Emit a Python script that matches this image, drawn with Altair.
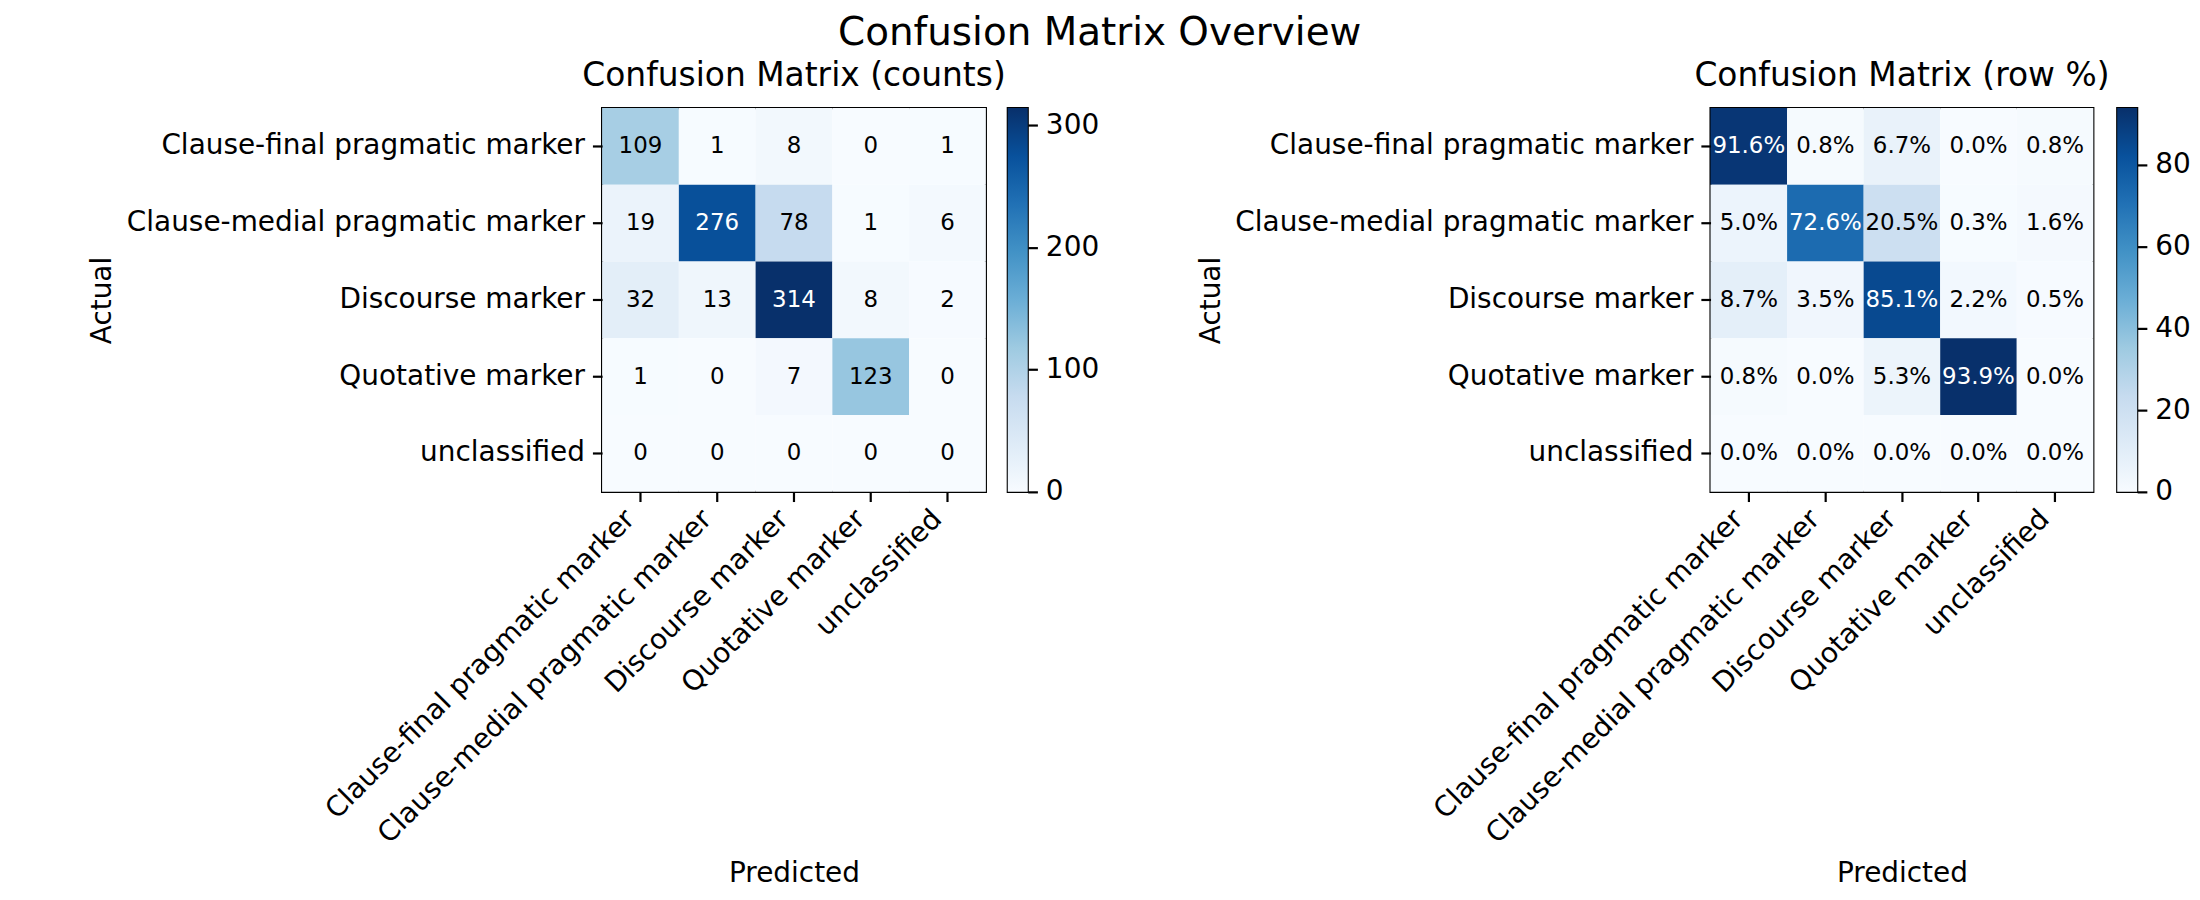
import altair as alt
import pandas as pd

FONT = "DejaVu Sans"

classes = [
    "Clause-final pragmatic marker",
    "Clause-medial pragmatic marker",
    "Discourse marker",
    "Quotative marker",
    "unclassified",
]

counts = [
    [109, 1, 8, 0, 1],
    [19, 276, 78, 1, 6],
    [32, 13, 314, 8, 2],
    [1, 0, 7, 123, 0],
    [0, 0, 0, 0, 0],
]

row_pct = [
    [91.6, 0.8, 6.7, 0.0, 0.8],
    [5.0, 72.6, 20.5, 0.3, 1.6],
    [8.7, 3.5, 85.1, 2.2, 0.5],
    [0.8, 0.0, 5.3, 93.9, 0.0],
    [0.0, 0.0, 0.0, 0.0, 0.0],
]

count_ticks = [0, 100, 200, 300]
pct_ticks = [0, 20, 40, 60, 80]

blues = ["#f7fbff", "#deebf7", "#c6dbef", "#9ecae1", "#6baed6",
         "#4292c6", "#2171b5", "#08519c", "#08306b"]


def panel(matrix, fmt, title, ticks, size, cb_gap):
    rows = []
    for i, a in enumerate(classes):
        for j, p in enumerate(classes):
            v = matrix[i][j]
            rows.append({"Actual": a, "Predicted": p, "value": v, "label": fmt(v)})
    df = pd.DataFrame(rows)
    vmax = max(max(r) for r in matrix)
    vmin = min(min(r) for r in matrix)
    thresh = (vmax + vmin) / 2.0
    stops = [vmin + (vmax - vmin) * k / 8.0 for k in range(9)]

    base = alt.Chart(df).encode(
        x=alt.X("Predicted:N", sort=classes,
                scale=alt.Scale(paddingInner=0, paddingOuter=0),
                axis=alt.Axis(title="Predicted", titleBaseline="alphabetic", titleY=391)),
        y=alt.Y("Actual:N", sort=classes,
                scale=alt.Scale(paddingInner=0, paddingOuter=0),
                axis=alt.Axis(title="Actual", titleBaseline="alphabetic", titleX=-493)),
    )
    rect = base.mark_rect().encode(
        color=alt.Color(
            "value:Q",
            scale=alt.Scale(domain=stops, range=blues, interpolate="rgb"),
            legend=None,
        )
    )
    text = base.mark_text(font=FONT, fontSize=23).encode(
        text="label:N",
        color=alt.condition(f"datum.value > {thresh}", alt.value("white"), alt.value("black")),
    )
    heat = alt.layer(rect, text).properties(
        width=size, height=385,
        title=alt.TitleParams(title, font=FONT, fontSize=33, fontWeight="normal",
                              color="black", offset=15),
    )

    gradient = {
        "gradient": "linear", "x1": 0, "y1": 1, "x2": 0, "y2": 0,
        "stops": [{"offset": k / 8.0, "color": c} for k, c in enumerate(blues)],
    }
    cb_df = pd.DataFrame({"lo": [vmin], "hi": [vmax]})
    cbar = alt.Chart(cb_df).mark_rect(color=gradient).encode(
        y=alt.Y("lo:Q", scale=alt.Scale(domain=[vmin, vmax], nice=False, zero=False),
                axis=alt.Axis(orient="right", values=ticks, title=None, labelFlush=False,
                              labelPadding=8, labelBaseline="middle")),
        y2="hi:Q",
        x=alt.value(0),
        x2=alt.value(20),
    ).properties(width=20, height=385)

    return alt.hconcat(heat, cbar, spacing=cb_gap, bounds="flush")


left = panel(counts, lambda v: str(v), "Confusion Matrix (counts)", count_ticks, 385, 22)
right = panel(row_pct, lambda v: f"{v:.1f}%", "Confusion Matrix (row %)", pct_ticks, 384, 24)

chart = (
    alt.hconcat(left, right, spacing=1112, bounds="flush")
    .resolve_scale(color="independent")
    .properties(
        title=alt.TitleParams("Confusion Matrix Overview", font=FONT, fontSize=39,
                              fontWeight="normal", color="black", offset=6,
                              anchor="middle", dx=-40),
        padding={"left": 79, "top": 4, "right": 0, "bottom": 0},
        background="white",
    )
    .configure_view(stroke="black", strokeWidth=2.2)
    .configure_axis(
        domain=False, grid=False, ticks=True, tickColor="black", tickWidth=2.2,
        tickSize=9.7, labelFont=FONT, labelFontSize=28, labelColor="black",
        titleFont=FONT, titleFontSize=28, titleFontWeight="normal",
        titleColor="black", labelLimit=700, labelOverlap=False,
    )
    .configure_axisX(labelAngle=-45, labelAlign="right", labelBaseline="bottom",
                     labelPadding=23)
    .configure_axisY(labelPadding=8)
)

chart.save("out.html", embed_options={"renderer": "svg", "actions": False})
